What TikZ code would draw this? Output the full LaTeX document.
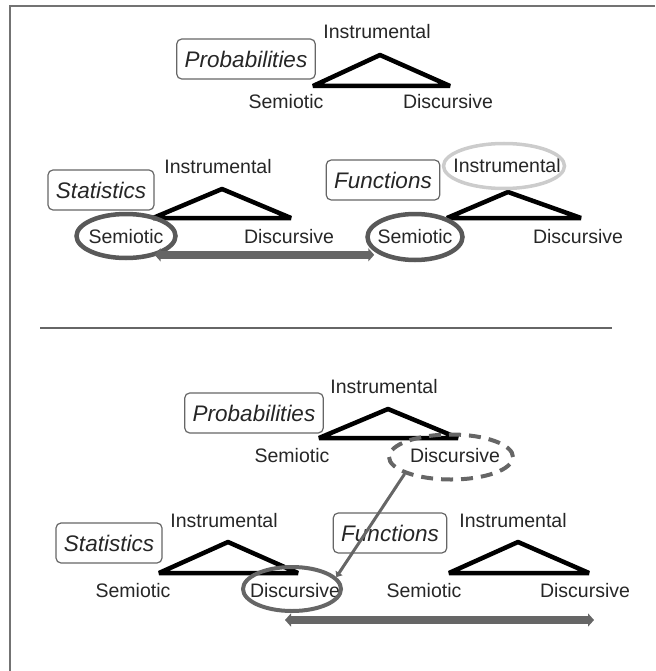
\documentclass[tikz,border=0pt]{standalone}
\usepackage{fontspec}
\setmainfont{Liberation Sans}
\usepackage{tikz}
\usetikzlibrary{arrows.meta,shapes.geometric}

\begin{document}
\begin{tikzpicture}[x=1pt, y=-1pt,
    vertex/.style={text=black!85, inner sep=0pt,
      font=\fontsize{19.5}{22}\selectfont},
    field/.style={draw=black!60, line width=1.2pt, rounded corners=5pt,
      minimum height=40pt, inner xsep=8pt, text=black!85,
      font=\fontsize{22.5}{26}\selectfont\itshape},
    tri/.style={line width=4.5pt, line join=bevel},
    ring/.style={ellipse, draw=black!65, line width=4.5pt, inner sep=0pt},
    faint/.style={ellipse, draw=black!20, line width=3.5pt, inner sep=0pt},
    twoway/.style={draw=black!60, line width=8pt,
      {Triangle[length=6pt,width=13pt]}-{Triangle[length=6pt,width=13pt]}},
    link/.style={draw=black!60, line width=3pt,
      -{Triangle[length=5pt,width=8pt]}}]
  \useasboundingbox (0,0) rectangle (655,671);
  \draw[black!55, line width=2.5pt] (10,671) -- (10,6) -- (655,6);

  % upper half
  \node[field] (pBoxA) at (246,59) {Probabilities};
  \node[vertex] (pInstA) at (377,32) {Instrumental};
  \node[vertex] (pSemA) at (286,102) {Semiotic};
  \node[vertex] (pDiscA) at (448,102) {Discursive};
  \draw[tri] (313,86) -- (380,55) -- (450,86) -- cycle;

  \node[field] (sBoxA) at (101,190) {Statistics};
  \node[vertex] (sInstA) at (218,167) {Instrumental};
  \node[vertex] (sSemA) at (126,237) {Semiotic};
  \node[vertex] (sDiscA) at (289,237) {Discursive};
  \draw[tri] (153,218) -- (222,189) -- (291,218) -- cycle;

  \node[field] (fBoxA) at (383,180) {Functions};
  \node[vertex] (fInstA) at (507,166) {Instrumental};
  \node[vertex] (fSemA) at (415,237) {Semiotic};
  \node[vertex] (fDiscA) at (578,237) {Discursive};
  \draw[tri] (447,218) -- (508,192) -- (581,218) -- cycle;

  \node[ring, minimum width=99pt, minimum height=44pt] (sSemRing) at (126,236) {};
  \node[faint, minimum width=121pt, minimum height=45pt] (fInstRing) at (504,166) {};
  \node[ring, minimum width=95pt, minimum height=46pt] (fSemRing) at (415,237) {};
  \draw[twoway, shorten <=-4pt, shorten >=-9pt]
    (sSemRing.-30) -- (sSemRing.-30 -| fSemRing.west);

  \draw[black!60, line width=1.5pt] (40,328) -- (612,328);

  % lower half
  \node[field] (pBoxB) at (254,413) {Probabilities};
  \node[vertex] (pInstB) at (384,387) {Instrumental};
  \node[vertex] (pSemB) at (292,456) {Semiotic};
  \node[vertex] (pDiscB) at (455,456) {Discursive};
  \draw[tri] (319,438) -- (388,409) -- (458,438) -- cycle;

  \node[field] (sBoxB) at (109,543) {Statistics};
  \node[vertex] (sInstB) at (224,521) {Instrumental};
  \node[vertex] (sSemB) at (133,591) {Semiotic};
  \node[vertex] (sDiscB) at (295,591) {Discursive};
  \draw[tri] (159,573) -- (228,542) -- (298,573) -- cycle;

  \node[field] (fBoxB) at (390,533) {Functions};
  \node[vertex] (fInstB) at (513,521) {Instrumental};
  \node[vertex] (fSemB) at (424,591) {Semiotic};
  \node[vertex] (fDiscB) at (585,591) {Discursive};
  \draw[tri] (449,573) -- (518,542) -- (589,573) -- cycle;

  \node[ring, draw=black!60, line width=4pt, dash pattern=on 12pt off 8pt,
    minimum width=124pt, minimum height=45pt] (pDiscRing) at (451,457) {};
  \node[ring, draw=black!60, line width=4pt,
    minimum width=98pt, minimum height=44pt] (sDiscRing) at (292,589) {};
  \draw[link] (pDiscRing.200) -- (sDiscRing.15);
  \draw[twoway, shorten >=-9pt]
    ([xshift=-7pt,yshift=-7pt]sDiscRing.south) -- ([yshift=-7pt]sDiscRing.south -| fDiscB.south);
\end{tikzpicture}
\end{document}
